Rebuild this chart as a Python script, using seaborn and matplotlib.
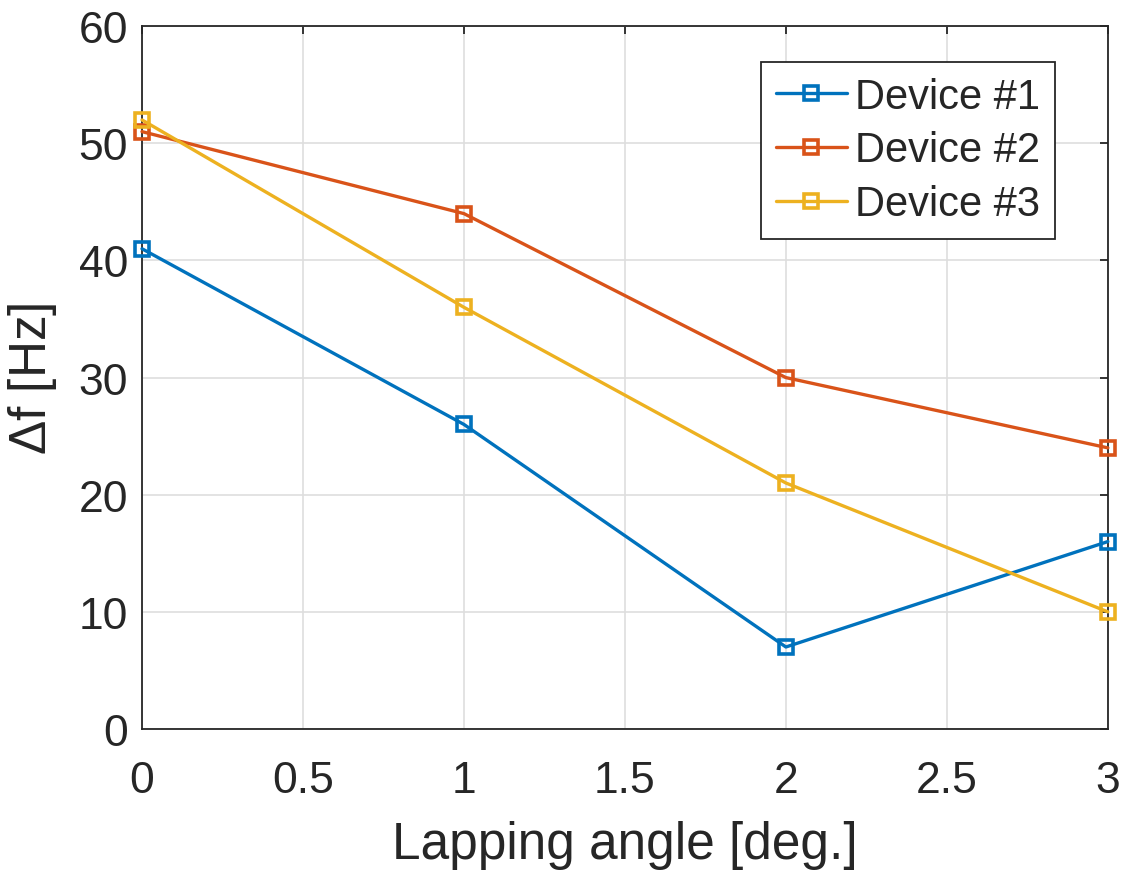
import matplotlib
matplotlib.use('Agg')
import matplotlib.pyplot as plt
import seaborn as sns
import pandas as pd

angles = [0, 1, 2, 3]
device1 = [41, 26, 7, 16]
device2 = [51, 44, 30, 24]
device3 = [52, 36, 21, 10]
labels = ['Device #1', 'Device #2', 'Device #3']
colors = ['#0072BD', '#D95319', '#EDB120']

df = pd.DataFrame({
    'angle': angles * 3,
    'df': device1 + device2 + device3,
    'device': [l for l in labels for _ in angles],
})

sns.set_style('white')
plt.rcParams['font.family'] = ['Liberation Sans', 'DejaVu Sans']
plt.rcParams['mathtext.fontset'] = 'custom'
plt.rcParams['mathtext.rm'] = 'Liberation Sans'

fig = plt.figure(figsize=(11.27, 8.78), dpi=100)
ax = fig.add_axes([0.126, 0.1686, 0.857, 0.8004])

sns.lineplot(data=df, x='angle', y='df', hue='device', palette=colors,
             marker='s', markersize=10, markerfacecolor='none', markeredgewidth=2.6,
             linewidth=2.4, ax=ax, clip_on=False, zorder=3)
for line in ax.lines:
    line.set_markeredgecolor(line.get_color())

ax.set_xlim(0, 3)
ax.set_ylim(0, 60)
ax.set_xticks([0, 0.5, 1, 1.5, 2, 2.5, 3])
ax.set_xticklabels(['0', '0.5', '1', '1.5', '2', '2.5', '3'])
ax.set_yticks(range(0, 61, 10))
ax.grid(True, color='#dedede', linewidth=1.2)
ax.set_axisbelow(True)
for s in ax.spines.values():
    s.set_color('#262626')
    s.set_linewidth(1.3)
ax.tick_params(direction='in', length=6, width=1.3, colors='#262626',
               labelsize=32, top=True, right=True)
ax.tick_params(axis='x', pad=22)
ax.tick_params(axis='y', pad=10)
ax.set_xlabel('Lapping angle [deg.]', fontsize=37, color='#262626', labelpad=14)
ax.set_ylabel('$\\Delta$f [Hz]', fontsize=37, color='#262626', labelpad=14)

leg = ax.legend(handles=ax.lines[:3], labels=labels, loc='upper right',
                bbox_to_anchor=(0.945, 0.949), borderaxespad=0, fontsize=30,
                frameon=True, fancybox=False, edgecolor='#262626',
                handlelength=1.7, handletextpad=0.2, borderpad=0.35,
                labelspacing=0.33, framealpha=1)
leg.get_frame().set_linewidth(1.3)

fig.savefig('out.png', dpi=100)
